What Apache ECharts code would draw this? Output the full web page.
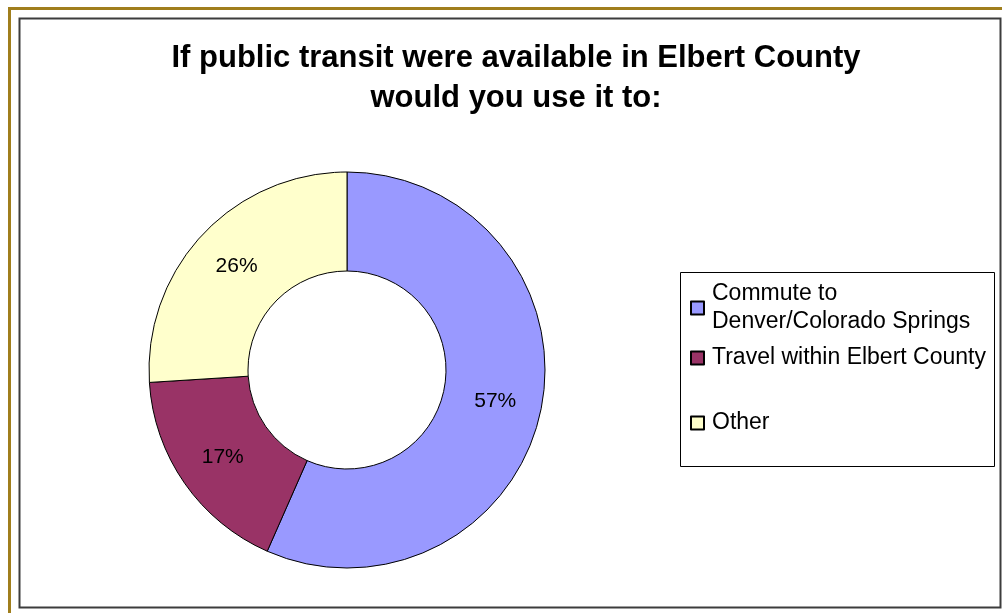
<!DOCTYPE html>
<html>
<head>
<meta charset="utf-8">
<script src="https://cdn.jsdelivr.net/npm/echarts@6/dist/echarts.min.js"></script>
<style>
  html, body { margin: 0; padding: 0; background: #fff; }
  #chart { width: 1002px; height: 613px; }
</style>
</head>
<body>
<div id="chart"></div>
<script>
  var categories = ['Commute to Denver/Colorado Springs', 'Travel within Elbert County', 'Other'];
  var shares = [56.6, 17.4, 26.0];
  var sliceColors = ['#9999ff', '#993366', '#ffffcc'];

  var myChart = echarts.init(document.getElementById('chart'));

  var seriesData = categories.map(function (name, i) {
    return { name: name, value: shares[i], itemStyle: { color: sliceColors[i] } };
  });

  var legendBase = {
    orient: 'vertical',
    left: 690,
    icon: 'rect',
    itemWidth: 13,
    itemHeight: 13,
    itemGap: 0,
    padding: 0,
    selectedMode: false,
    textStyle: {
      color: '#000',
      fontSize: 23,
      fontFamily: 'Liberation Sans, Arial, sans-serif',
      lineHeight: 28,
      padding: [0, 0, 0, 3]
    }
  };

  myChart.setOption({
    backgroundColor: '#fff',
    animation: false,
    title: {
      text: 'If public transit were available in Elbert County\nwould you use it to:',
      left: 511,
      textAlign: 'center',
      top: 33,
      textStyle: {
        fontFamily: 'Liberation Sans, Arial, sans-serif',
        fontWeight: 'bold',
        fontSize: 31,
        lineHeight: 40,
        color: '#000'
      }
    },
    legend: [
      Object.assign({}, legendBase, {
        top: 266,
        data: [categories[0]],
        formatter: function () { return 'Commute to\nDenver/Colorado Springs'; },
        textStyle: Object.assign({}, legendBase.textStyle, { padding: [28, 0, 0, 3] })
      }),
      Object.assign({}, legendBase, { top: 344, data: [categories[1]] }),
      Object.assign({}, legendBase, { top: 409, data: [categories[2]] })
    ],
    graphic: [
      { type: 'rect', shape: { x: 9.5, y: 8.5, width: 1100, height: 700 }, style: { fill: null, stroke: '#a07e1c', lineWidth: 3 }, silent: true },
      { type: 'rect', shape: { x: 19.5, y: 18.5, width: 981, height: 589 }, style: { fill: null, stroke: '#3c3c3c', lineWidth: 2 }, silent: true },
      { type: 'rect', shape: { x: 680.5, y: 272.5, width: 314, height: 194 }, style: { fill: null, stroke: '#000', lineWidth: 1 }, silent: true, z: -1 }
    ],
    series: [{
      type: 'pie',
      center: [347, 370],
      radius: [99, 198],
      startAngle: 90,
      clockwise: true,
      avoidLabelOverlap: false,
      itemStyle: { borderColor: '#000', borderWidth: 1 },
      label: {
        show: true,
        position: 'inside',
        formatter: function (p) { return Math.round(p.percent) + '%'; },
        color: '#000',
        fontSize: 21,
        fontFamily: 'Liberation Sans, Arial, sans-serif'
      },
      labelLine: { show: false },
      emphasis: { disabled: true },
      data: seriesData
    }]
  });
</script>
</body>
</html>
